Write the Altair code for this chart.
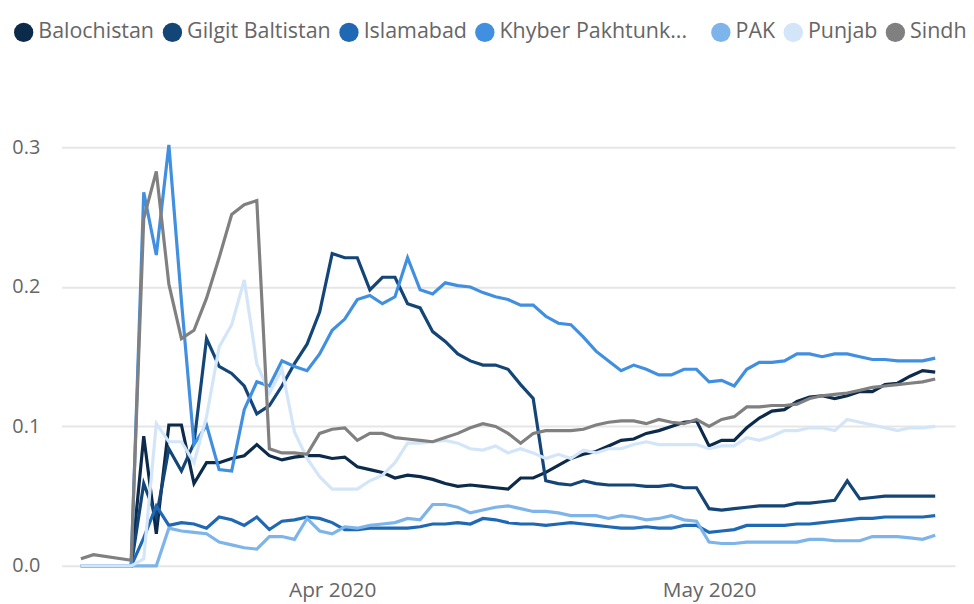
import altair as alt
import pandas as pd

# Dates: two early reports, then daily from 16 Mar to 19 May 2020
early_dates = ["2020-03-12", "2020-03-13"]
daily_dates = [d.strftime("%Y-%m-%d") for d in pd.date_range("2020-03-16", "2020-05-19", freq="D")]
dates = early_dates + daily_dates

regions = ["Balochistan", "Gilgit Baltistan", "Islamabad", "Khyber Pakhtunkhwa", "PAK", "Punjab", "Sindh"]
colors = ["#0c2a4a", "#144577", "#1f68b3", "#418fe0", "#7db4ea", "#d3e5f8", "#808080"]

balochistan = [
    0, 0, 0, 0.093, 0.023, 0.101, 0.101, 0.059, 0.074, 0.074, 0.077, 0.079, 0.087, 0.079, 0.076, 0.078, 0.079, 0.079,
    0.077, 0.078, 0.071, 0.069, 0.067, 0.063, 0.065, 0.064, 0.062, 0.059, 0.057, 0.058, 0.057, 0.056, 0.055,
    0.063, 0.063, 0.067, 0.072, 0.077, 0.080, 0.082, 0.086, 0.090, 0.091, 0.095, 0.097, 0.100, 0.103, 0.104,
    0.086, 0.090, 0.090, 0.099, 0.106, 0.111, 0.112, 0.118, 0.121, 0.122, 0.120, 0.122, 0.125, 0.125, 0.130,
    0.131, 0.136, 0.140, 0.139,
]
gilgit = [
    0, 0, 0, 0.059, 0.035, 0.084, 0.068, 0.088, 0.163, 0.143, 0.138, 0.129, 0.109, 0.115, 0.129, 0.145, 0.159, 0.182,
    0.224, 0.221, 0.221, 0.198, 0.207, 0.207, 0.188, 0.185, 0.168, 0.161, 0.152, 0.147, 0.144, 0.144, 0.141,
    0.130, 0.120, 0.061, 0.059, 0.058, 0.061, 0.059, 0.058, 0.058, 0.058, 0.057, 0.057, 0.058, 0.056, 0.056,
    0.041, 0.040, 0.041, 0.042, 0.043, 0.043, 0.043, 0.045, 0.045, 0.046, 0.047, 0.061, 0.048, 0.049, 0.050,
    0.050, 0.050, 0.050, 0.050,
]
islamabad = [
    0, 0, 0, 0.020, 0.043, 0.029, 0.031, 0.030, 0.027, 0.035, 0.033, 0.029, 0.035, 0.026, 0.032, 0.033, 0.035, 0.034,
    0.031, 0.026, 0.026, 0.027, 0.027, 0.027, 0.027, 0.028, 0.030, 0.030, 0.031, 0.030, 0.034, 0.033, 0.031,
    0.030, 0.030, 0.029, 0.030, 0.031, 0.030, 0.029, 0.028, 0.027, 0.027, 0.028, 0.027, 0.027, 0.029, 0.029,
    0.024, 0.025, 0.026, 0.029, 0.029, 0.029, 0.029, 0.030, 0.030, 0.031, 0.032, 0.033, 0.034, 0.034, 0.035,
    0.035, 0.035, 0.035, 0.036,
]
khyber = [
    0, 0, 0, 0.268, 0.223, 0.302, 0.190, 0.087, 0.101, 0.069, 0.068, 0.112, 0.132, 0.129, 0.147, 0.143, 0.140, 0.152,
    0.169, 0.177, 0.191, 0.194, 0.188, 0.193, 0.221, 0.198, 0.195, 0.203, 0.201, 0.200, 0.196, 0.193, 0.191,
    0.187, 0.187, 0.179, 0.174, 0.173, 0.164, 0.154, 0.147, 0.140, 0.144, 0.141, 0.137, 0.137, 0.141, 0.141,
    0.132, 0.133, 0.129, 0.141, 0.146, 0.146, 0.147, 0.152, 0.152, 0.150, 0.152, 0.152, 0.150, 0.148, 0.148,
    0.147, 0.147, 0.147, 0.149,
]
pak = [
    0, 0, 0, 0, 0, 0.027, 0.025, 0.024, 0.023, 0.017, 0.015, 0.013, 0.012, 0.021, 0.021, 0.019, 0.034, 0.025,
    0.023, 0.028, 0.027, 0.029, 0.030, 0.031, 0.034, 0.033, 0.044, 0.044, 0.042, 0.038, 0.040, 0.042, 0.043,
    0.041, 0.039, 0.039, 0.038, 0.036, 0.036, 0.036, 0.034, 0.036, 0.035, 0.033, 0.034, 0.036, 0.033, 0.032,
    0.017, 0.016, 0.016, 0.017, 0.017, 0.017, 0.017, 0.017, 0.019, 0.019, 0.018, 0.018, 0.018, 0.021, 0.021,
    0.021, 0.020, 0.019, 0.022,
]
punjab = [
    0, 0, 0, 0.005, 0.102, 0.089, 0.089, 0.074, 0.107, 0.157, 0.173, 0.205, 0.145, 0.124, 0.141, 0.096, 0.077, 0.064,
    0.055, 0.055, 0.055, 0.061, 0.065, 0.074, 0.088, 0.088, 0.089, 0.090, 0.088, 0.084, 0.083, 0.086, 0.081,
    0.084, 0.081, 0.077, 0.080, 0.077, 0.083, 0.081, 0.084, 0.084, 0.087, 0.089, 0.087, 0.087, 0.087, 0.087,
    0.084, 0.086, 0.086, 0.092, 0.090, 0.093, 0.097, 0.097, 0.099, 0.099, 0.097, 0.105, 0.103, 0.101, 0.099,
    0.097, 0.099, 0.099, 0.100,
]
sindh = [
    0.005, 0.008, 0.004, 0.249, 0.283, 0.202, 0.163, 0.169, 0.192, 0.221, 0.252, 0.259, 0.262, 0.084, 0.081, 0.081, 0.080, 0.095,
    0.098, 0.099, 0.090, 0.095, 0.095, 0.092, 0.091, 0.090, 0.089, 0.092, 0.095, 0.099, 0.102, 0.100, 0.095,
    0.088, 0.095, 0.097, 0.097, 0.097, 0.098, 0.101, 0.103, 0.104, 0.104, 0.102, 0.105, 0.103, 0.102, 0.105,
    0.100, 0.105, 0.107, 0.114, 0.114, 0.115, 0.115, 0.116, 0.120, 0.122, 0.123, 0.124, 0.126, 0.128, 0.129,
    0.130, 0.131, 0.132, 0.134,
]

series = [balochistan, gilgit, islamabad, khyber, pak, punjab, sindh]
rows = []
for name, vals in zip(regions, series):
    for d, v in zip(dates, vals):
        rows.append({"date": d, "region": name, "value": v})
df = pd.DataFrame(rows)

FONT = "Open Sans"
# shortened legend label (blank braille cell keeps a little trailing room)
KP_SHORT = "Khyber Pakhtunk...\u2800"

x_enc = alt.X(
    "date:T",
    title=None,
    scale=alt.Scale(
        type="utc",
        domain=[
            alt.DateTime(year=2020, month=3, date=10, hours=11, utc=True),
            alt.DateTime(year=2020, month=5, date=20, hours=14, utc=True),
        ],
    ),
    axis=alt.Axis(
        values=[
            alt.DateTime(year=2020, month=4, date=1, utc=True),
            alt.DateTime(year=2020, month=5, date=1, utc=True),
        ],
        format="%b %Y",
        grid=False,
        ticks=False,
        domain=False,
        labelFont=FONT,
        labelFontSize=21,
        labelColor="#666666",
        labelPadding=14,
    ),
)
y_enc = alt.Y(
    "value:Q",
    title=None,
    scale=alt.Scale(domain=[0, 0.35], nice=False),
    axis=alt.Axis(
        values=[0, 0.1, 0.2, 0.3],
        format=".1f",
        ticks=False,
        domain=False,
        gridColor="#e6e6e6",
        gridWidth=2,
        labelFont=FONT,
        labelFontSize=20,
        labelColor="#666666",
        labelPadding=22,
    ),
)
color_scale = alt.Scale(domain=regions, range=colors)

base = alt.Chart(df)

legend_layer = base.mark_point(filled=True, size=0, opacity=1).encode(
    x=x_enc,
    y=y_enc,
    color=alt.Color(
        "region:N",
        scale=color_scale,
        legend=alt.Legend(
            title=None,
            orient="none",
            legendX=-49,
            legendY=-57,
            direction="horizontal",
            symbolType="circle",
            symbolSize=380,
            symbolStrokeWidth=0,
            symbolOpacity=1,
            labelFont=FONT,
            labelFontSize=21.6,
            labelColor="#666666",
            labelOffset=4,
            columnPadding=7,
            labelLimit=400,
            labelExpr="datum.label == 'Khyber Pakhtunkhwa' ? '" + KP_SHORT + "' : datum.label",
            padding=0,
        ),
    ),
)

lines = base.mark_line(strokeWidth=3.2, strokeJoin="miter", strokeCap="butt").encode(
    x=x_enc,
    y=y_enc,
    color=alt.Color("region:N", scale=color_scale, legend=None),
)

chart = alt.layer(legend_layer, lines).properties(
    width=901,
    height=492,
    autosize=alt.AutoSizeParams(type="none"),
    padding={"left": 54, "top": 68, "right": 11, "bottom": 36},
).configure_view(stroke=None)

chart.save("out.html", embed_options={"renderer": "svg", "actions": False})
